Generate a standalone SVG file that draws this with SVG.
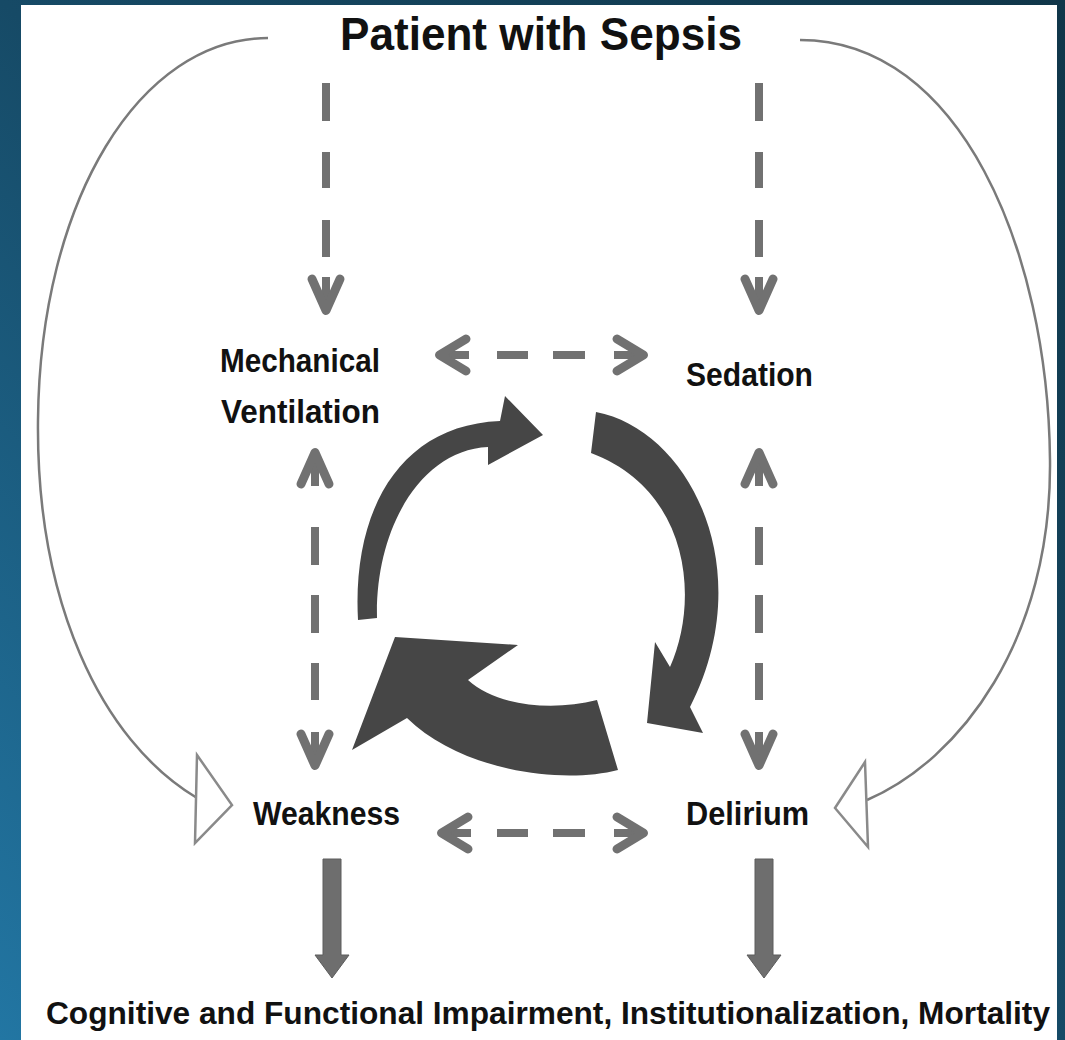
<svg xmlns="http://www.w3.org/2000/svg" xmlns:xlink="http://www.w3.org/1999/xlink" width="1065" height="1040" viewBox="0 0 1065 1040">
<defs>
<linearGradient id="bg" x1="1" y1="0" x2="0" y2="1">
<stop offset="0" stop-color="#103649"/>
<stop offset="0.5" stop-color="#164a66"/>
<stop offset="1" stop-color="#2276a3"/>
</linearGradient>
<g id="hh"><line x1="-5" y1="0" x2="-34" y2="0" stroke="#717171" stroke-width="8"/><polyline points="-31,-16 -4.5,0 -31,16" fill="none" stroke="#717171" stroke-width="9" stroke-linejoin="round" stroke-linecap="round"/></g>
<g id="hv"><line x1="0" y1="-5" x2="0" y2="-38" stroke="#717171" stroke-width="8"/><polyline points="-14,-36 0,-4.5 14,-36" fill="none" stroke="#717171" stroke-width="9" stroke-linejoin="round" stroke-linecap="round"/></g>
</defs>
<style>
.lbl{font-family:"Liberation Sans",Arial,sans-serif;font-weight:bold;fill:#111}
.dash{stroke:#717171;stroke-width:8;fill:none}
.curve{stroke:#7a7a7a;stroke-width:2.5;fill:none}
.tri{stroke:#8a8a8a;stroke-width:2.5;fill:#fff;stroke-linejoin:miter}
.cyc{fill:#464646}
.thick{fill:#6e6e6e;stroke:#5c5c5c;stroke-width:1}
</style>
<rect x="0" y="0" width="1065" height="1040" fill="url(#bg)"/>
<rect x="21" y="5" width="1036" height="1040" fill="#fff"/>

<g id="connectors">
<path class="curve" d="M268,38 C140,38 40,200 38,420 C36,600 100,740 197,798"/>
<polygon class="tri" points="197,755 232,805 195,843"/>
<path class="curve" d="M800,40 C960,40 1048,250 1050,460 C1052,640 960,760 867,800"/>
<polygon class="tri" points="865,762 835,808 868,847"/>

<path class="dash" d="M326,83V121M326,152V188M326,220V257"/>
<use xlink:href="#hv" transform="translate(326,315)"/>
<path class="dash" d="M759,83V121M759,152V188M759,220V257"/>
<use xlink:href="#hv" transform="translate(759,315)"/>

<path class="dash" d="M497,355H528M553,355H585"/>
<use xlink:href="#hh" transform="translate(435,355) rotate(180)"/>
<use xlink:href="#hh" transform="translate(648,355)"/>

<path class="dash" d="M497,833H528M553,833H585"/>
<use xlink:href="#hh" transform="translate(437,833) rotate(180)"/>
<use xlink:href="#hh" transform="translate(648,833)"/>

<path class="dash" d="M315,527V565M315,595V633M315,663V700"/>
<use xlink:href="#hv" transform="translate(315,448) rotate(180)"/>
<use xlink:href="#hv" transform="translate(315,770)"/>
<path class="dash" d="M759,527V565M759,595V633M759,663V700"/>
<use xlink:href="#hv" transform="translate(759,448) rotate(180)"/>
<use xlink:href="#hv" transform="translate(759,770)"/>

<polygon class="thick" points="323,859 341,859 341,955 349,955 332,978 315,955 323,955"/>
<polygon class="thick" points="755,859 773,859 773,955 781,955 764,978 747,955 755,955"/>

<path class="cyc" d="M358,620 C352,510 400,425 500,421 L505,396 L543,435 L488,465 L488,447 C420,450 375,530 377,618 Z"/>
<path class="cyc" d="M596,412 C690,430 760,570 690,707 L703,733 L647,723 L655,642 L670,667 C700,600 690,490 591,453 Z"/>
<path class="cyc" d="M597,700 L618,770 C560,785 460,770 407,718 L352,750 L395,637 L518,645 L468,680 C495,705 550,712 597,700 Z"/>
</g>

<g id="node-sepsis"><text class="lbl" x="340" y="50" font-size="46" textLength="402" lengthAdjust="spacingAndGlyphs">Patient with Sepsis</text></g>
<g id="node-mv"><text class="lbl" x="220" y="372" font-size="33" textLength="160" lengthAdjust="spacingAndGlyphs">Mechanical</text><text class="lbl" x="221" y="423" font-size="33" textLength="159" lengthAdjust="spacingAndGlyphs">Ventilation</text></g>
<g id="node-sedation"><text class="lbl" x="686" y="386" font-size="33" textLength="127" lengthAdjust="spacingAndGlyphs">Sedation</text></g>
<g id="node-weakness"><text class="lbl" x="253" y="825" font-size="33" textLength="147" lengthAdjust="spacingAndGlyphs">Weakness</text></g>
<g id="node-delirium"><text class="lbl" x="686" y="825" font-size="33" textLength="123" lengthAdjust="spacingAndGlyphs">Delirium</text></g>
<g id="node-outcome"><text class="lbl" x="46" y="1024" font-size="32" textLength="1004" lengthAdjust="spacingAndGlyphs">Cognitive and Functional Impairment, Institutionalization, Mortality</text></g>
</svg>
